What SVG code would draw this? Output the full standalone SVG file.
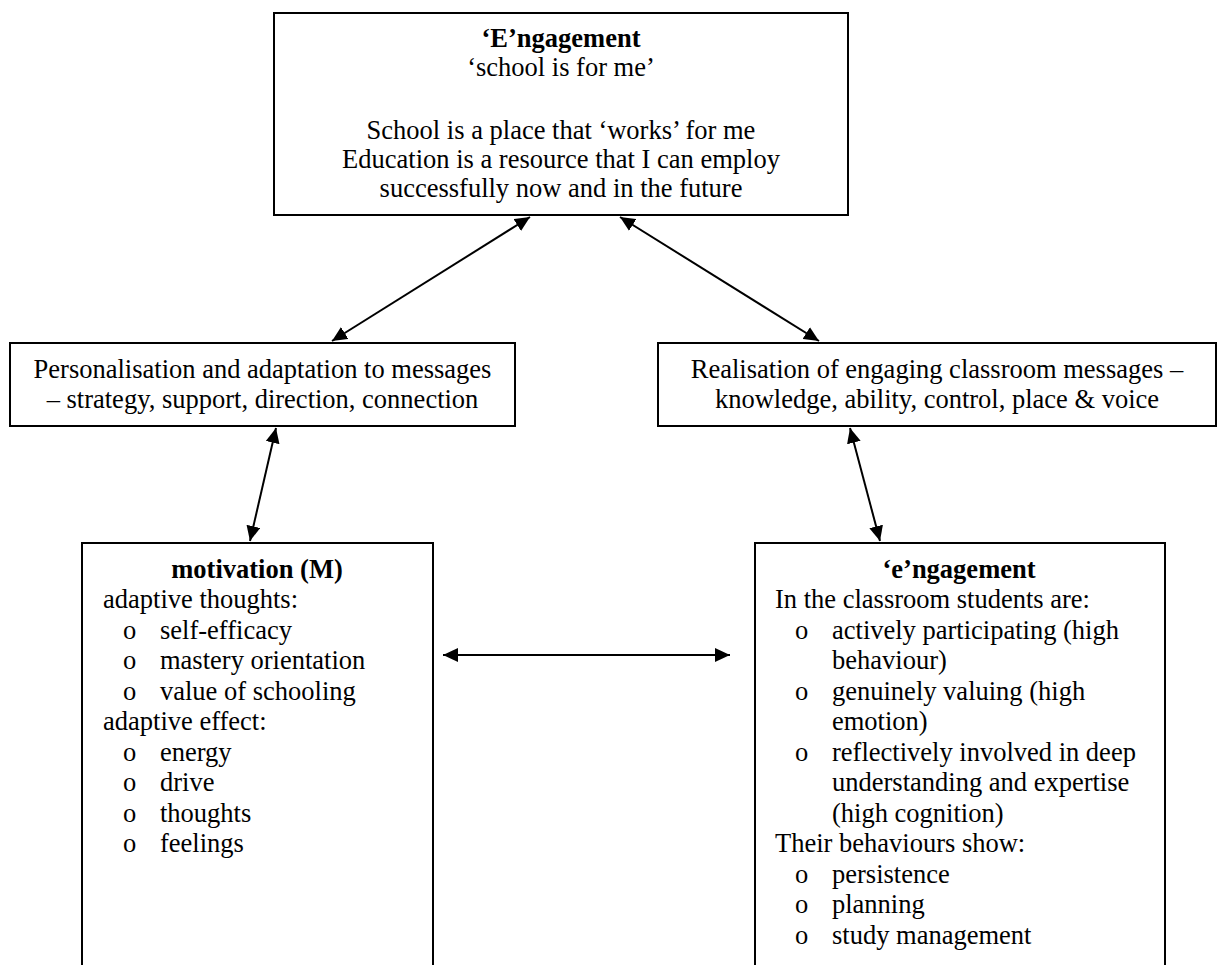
<svg xmlns="http://www.w3.org/2000/svg" width="1218" height="965" viewBox="0 0 1218 965">
<defs>
<style>
.box{fill:#fff;stroke:#000;stroke-width:2}
.t{font-family:"Liberation Serif","Times New Roman",serif;font-size:26.5px;fill:#000}
.c{text-anchor:middle}
.b{font-weight:bold}
.con{stroke:#000;stroke-width:2;fill:none;marker-start:url(#ah);marker-end:url(#ah)}
</style>
<marker id="ah" viewBox="0 0 15 14" refX="15" refY="7" markerWidth="15" markerHeight="14" markerUnits="userSpaceOnUse" orient="auto-start-reverse">
<path d="M0,0 L15,7 L0,14 z" fill="#000"/>
</marker>
</defs>
<rect width="1218" height="965" fill="#fff"/>
<g id="connectors">
<line class="con" x1="332" y1="341" x2="530" y2="217"/>
<line class="con" x1="819" y1="341" x2="620" y2="217"/>
<line class="con" x1="250" y1="541" x2="276" y2="428"/>
<line class="con" x1="880" y1="541" x2="850" y2="428"/>
<line class="con" x1="443" y1="655" x2="730" y2="655"/>
</g>
<g id="node-E">
<rect class="box" x="274" y="13" width="574" height="202"/>
<text class="t c b" x="561" y="47">‘E’ngagement</text>
<text class="t c" x="561" y="76">‘school is for me’</text>
<text class="t c" x="561" y="139">School is a place that ‘works’ for me</text>
<text class="t c" x="561" y="168">Education is a resource that I can employ</text>
<text class="t c" x="561" y="197">successfully now and in the future</text>
</g>
<g id="node-personalisation">
<rect class="box" x="10" y="343" width="505" height="83"/>
<text class="t c" x="262.5" y="378">Personalisation and adaptation to messages</text>
<text class="t c" x="262.5" y="408">– strategy, support, direction, connection</text>
</g>
<g id="node-realisation">
<rect class="box" x="658" y="343" width="558" height="83"/>
<text class="t c" x="937" y="378">Realisation of engaging classroom messages –</text>
<text class="t c" x="937" y="408">knowledge, ability, control, place &amp; voice</text>
</g>
<g id="node-motivation">
<rect class="box" x="82" y="543" width="351" height="435"/>
<text class="t c b" x="257" y="578">motivation (M)</text>
<text class="t" x="103" y="608">adaptive thoughts:</text>
<text class="t" x="123" y="639">o</text><text class="t" x="160" y="639">self-efficacy</text>
<text class="t" x="123" y="669">o</text><text class="t" x="160" y="669">mastery orientation</text>
<text class="t" x="123" y="700">o</text><text class="t" x="160" y="700">value of schooling</text>
<text class="t" x="103" y="730">adaptive effect:</text>
<text class="t" x="123" y="761">o</text><text class="t" x="160" y="761">energy</text>
<text class="t" x="123" y="791">o</text><text class="t" x="160" y="791">drive</text>
<text class="t" x="123" y="822">o</text><text class="t" x="160" y="822">thoughts</text>
<text class="t" x="123" y="852">o</text><text class="t" x="160" y="852">feelings</text>
</g>
<g id="node-e">
<rect class="box" x="755" y="543" width="410" height="435"/>
<text class="t c b" x="959" y="578">‘e’ngagement</text>
<text class="t" x="775" y="608">In the classroom students are:</text>
<text class="t" x="795" y="639">o</text><text class="t" x="832" y="639">actively participating (high</text>
<text class="t" x="832" y="669">behaviour)</text>
<text class="t" x="795" y="700">o</text><text class="t" x="832" y="700">genuinely valuing (high</text>
<text class="t" x="832" y="730">emotion)</text>
<text class="t" x="795" y="761">o</text><text class="t" x="832" y="761">reflectively involved in deep</text>
<text class="t" x="832" y="791">understanding and expertise</text>
<text class="t" x="832" y="822">(high cognition)</text>
<text class="t" x="775" y="852">Their behaviours show:</text>
<text class="t" x="795" y="883">o</text><text class="t" x="832" y="883">persistence</text>
<text class="t" x="795" y="913">o</text><text class="t" x="832" y="913">planning</text>
<text class="t" x="795" y="944">o</text><text class="t" x="832" y="944">study management</text>
</g>
</svg>
